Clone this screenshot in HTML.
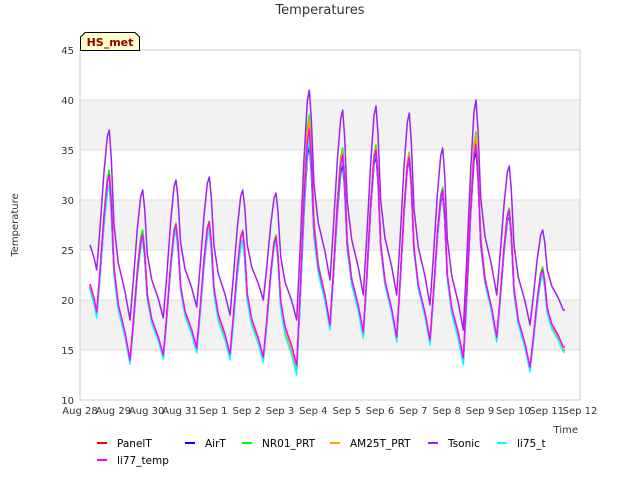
<!DOCTYPE html>
<html><head><meta charset="utf-8"><style>
body{margin:0;background:#fff;font-family:"DejaVu Sans","Liberation Sans",sans-serif}
</style></head><body>
<svg id="c" width="640" height="480" style="font-family:'DejaVu Sans','Liberation Sans',sans-serif">
<rect width="640" height="480" fill="#fff"/>
<g id="bands"></g><g id="grid"></g>
<rect x="80" y="50" width="500" height="350" fill="none" stroke="#ccc"/>
<g id="lines"></g><g id="xt"></g><g id="yt"></g>
<text x="320" y="14" text-anchor="middle" font-size="13" fill="#333">Temperatures</text>
<text x="18" y="225" text-anchor="middle" font-size="10" fill="#333" transform="rotate(-90 18 225)">Temperature</text>
<text x="578" y="433" text-anchor="end" font-size="10" fill="#333">Time</text>
<g>
<path d="M80.5,50.5 L80.5,37 L85,32.5 L135,32.5 L139.5,37 L139.5,50.5 Z" fill="#ffffcc" stroke="#000"/>
<text x="110" y="46" text-anchor="middle" font-size="11" font-weight="bold" fill="#8b0000">HS_met</text></g>
<g id="legend"></g>
</svg>
<script>
const seriesNames=["PanelT","AirT","NR01_PRT","AM25T_PRT","Tsonic","li75_t","li77_temp"];
const colors=["#ff0000","#0000ff","#00ff00","#ffa500","#a020f0","#00ffff","#ff00ff"];
const xTickLabels=["Aug 28","Aug 29","Aug 30","Aug 31","Sep 1","Sep 2","Sep 3","Sep 4","Sep 5","Sep 6","Sep 7","Sep 8","Sep 9","Sep 10","Sep 11","Sep 12"];
const yTicks=[10,15,20,25,30,35,40,45];
const startVals=[21.5,21.3,21.5,21.5,25.5,21,21.6];
const peaksPanelT=[32.5,26.7,27.3,27.6,26.8,26.3,37.5,35,35.3,34.5,31,36.2,29,23];
const peaksAirT=[31.5,26,27,27,26,26,35.5,33.5,34.5,34,30.5,35,28.5,22.5];
const peaksNR01=[33,27,27.7,27.9,27,26.5,38.5,35.2,35.5,34.8,31.3,36.8,29.2,23.3];
const peaksAM25T=[32.5,26.5,27.3,27.5,26.7,26.3,38,34.8,35.2,34.6,31,36.5,29,23];
const peaksTsonic=[37,31,32,32.3,31,30.7,41,39,39.4,38.7,35.2,40,33.4,27];
const peaksLi75=[31.5,26,27,27,26,25.8,36,34,34.8,34.2,30.7,35.5,28.7,22.5];
const peaksLi77=[32.5,26.5,27.5,27.8,26.9,26.3,37,34.5,35,34.3,31,35.5,29,23];
const minsBase=[18.5,13.8,14.3,15,14.3,14,12.8,17.3,16.5,16,15.8,13.8,16,13,15];
const minsTsonic=[23,18,18.2,19.3,18.5,20,18,22,20.5,20.5,19.5,17,20.5,17.5,19];
const minsLi75=[18.2,13.6,14.1,14.7,14,13.8,12.5,17,16.2,15.8,15.5,13.5,15.8,12.8,14.8];
const minsLi77=[18.8,14,14.5,15.2,14.6,14.3,13.5,17.5,16.8,16.3,16,14.2,16.3,13.3,15.3];
const peaks=[peaksPanelT,peaksAirT,peaksNR01,peaksAM25T,peaksTsonic,peaksLi75,peaksLi77];
const mins=[minsBase,minsBase,minsBase,minsBase,minsTsonic,minsLi75,minsLi77];
const NS="http://www.w3.org/2000/svg";
const X=d=>80+d*500/15, Y=v=>400-(v-10)*10;
function mk(t,a,p){const e=document.createElementNS(NS,t);for(const k in a)e.setAttribute(k,a[k]);p.appendChild(e);return e;}
const bands=document.getElementById('bands');
[[15,20],[25,30],[35,40]].forEach(b=>{const r=mk('rect',{x:80,y:Y(b[1]),width:500,height:50,fill:'#f2f2f2'},bands);

});
const grid=document.getElementById('grid'),yt=document.getElementById('yt'),xt=document.getElementById('xt');
yTicks.forEach(v=>{const l=mk('line',{x1:80,x2:580,y1:Y(v),y2:Y(v),stroke:'#ddd'},grid);


const t=mk('text',{x:74,y:Y(v)+4,'text-anchor':'end','font-size':10,fill:'#333'},yt);t.textContent=v;

});
xTickLabels.forEach((s,i)=>{const t=mk('text',{x:X(i),y:414,'text-anchor':'middle','font-size':10,fill:'#333'},xt);t.textContent=s;

});
const lines=document.getElementById('lines');
seriesNames.forEach((n,s)=>{
 const pk=peaks[s],mn=mins[s];const pts=[[0.3,startVals[s]],[0.42,(startVals[s]+mn[0])/2]];
 for(let d=0;d<15;d++){
  const lo=mn[d];pts.push([d+0.5,lo]);
  if(d<14){const hi=pk[d],r=hi-lo,nx=mn[d+1],r2=hi-nx;
   pts.push([d+0.6,lo+0.3*r]);pts.push([d+0.72,lo+0.7*r]);pts.push([d+0.82,lo+0.95*r]);pts.push([d+0.88,hi]);
   pts.push([d+0.94,hi-0.15*r2]);pts.push([d+1.02,nx+0.5*r2]);pts.push([d+1.15,nx+0.3*r2]);pts.push([d+1.35,nx+0.15*r2]);}
 }
 pts.push([14.55,mn[14]]);
 const p=mk('polyline',{points:pts.map(q=>X(q[0]).toFixed(1)+','+Y(q[1]).toFixed(1)).join(' '),fill:'none',stroke:colors[s],'stroke-width':1.5,'stroke-linejoin':'round'},lines);
 
 
});
const lg=document.getElementById('legend');
const lx=[97,185,242,330,428,497,97],ly=[443,443,443,443,443,443,460];
seriesNames.forEach((n,i)=>{const g=mk('g',{},lg);
 
 
 mk('line',{x1:lx[i],x2:lx[i]+10,y1:ly[i],y2:ly[i],stroke:colors[i],'stroke-width':2},g);
 const t=mk('text',{x:lx[i]+20,y:ly[i]+4,'font-size':10.5,fill:'#000'},g);t.textContent=n;});
</script>
</body></html>
